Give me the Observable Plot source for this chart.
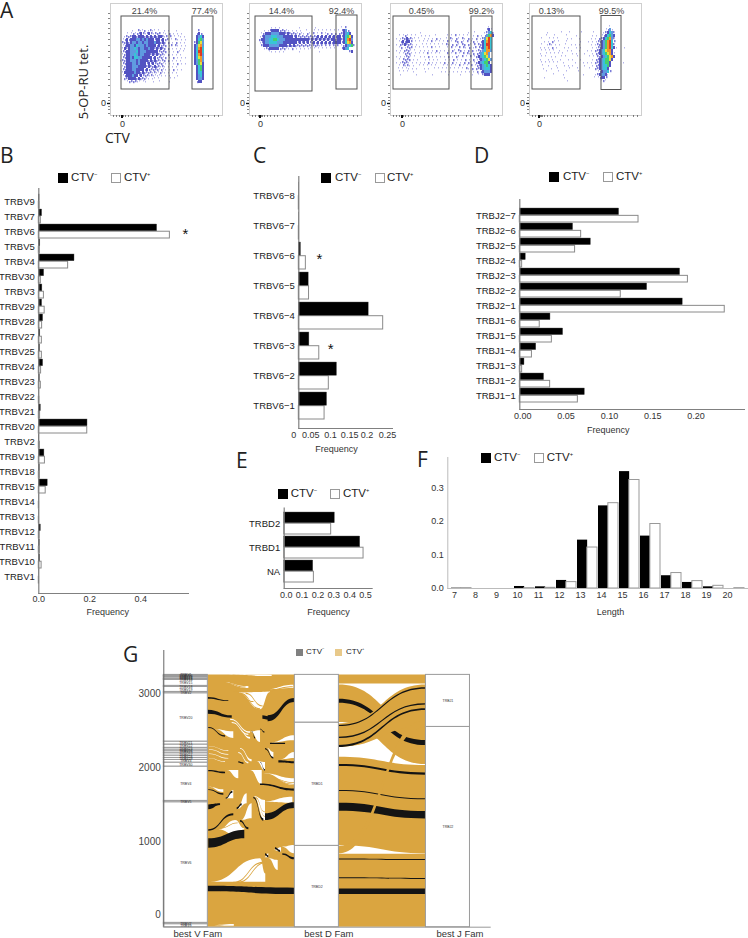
<!DOCTYPE html>
<html><head><meta charset="utf-8">
<script src="https://cdn.jsdelivr.net/npm/d3@7"></script>
<script src="https://cdn.jsdelivr.net/npm/@observablehq/plot@0.6"></script>
<style>
html,body{margin:0;padding:0;background:#fff}
#page{position:relative;width:748px;height:938px;overflow:hidden;background:#fff;font-family:"Liberation Sans",Arial,sans-serif;color:#222}
#page>svg,#page>figure{position:absolute;margin:0;overflow:visible;background:transparent}
.abs{position:absolute;white-space:nowrap;line-height:1}
.letter{font-family:"Open Sans",sans-serif;font-size:21px;color:#222}
.sq{position:absolute;box-sizing:border-box}
sup{font-size:50%;line-height:0;vertical-align:super}
</style></head><body><div id="page"></div>
<script>
// ---------- panel A : flow gates and density readings (levels 1-9 per small cell)
const gatePct = [["21.4%","77.4%"],["14.4%","92.4%"],["0.45%","99.2%"],["0.13%","99.5%"]];
const frameLeft = [110,249,390,529];
const gateLow = [[11,59,13,86],[6,63,13,88],[3,59,13,86],[3,51,13,86]];
const gateHigh = [[82,103,13,86],[87,108,12,86],[81,102,13,86],[72,92,12.5,86.5]];
const pctCenter = [[34,94],[32,92],[31,91],[22,82]];
const zeroX = [12,11,12,10];
const density1 = [
"...........1..2112.1211.1..1.1...1..........2...........",
"........1.121223212321222.11.2.1.1.1.......232..........",
".......1222332333232323233212.2.1.11.1.....3453.........",
"......12323334434343332332322.1.21.1.1.....3564.........",
"......2232344344344333433232.2.1.2.1.1....23674.........",
"......1233443544434333323222.12.21.1.1....34784.........",
"......1323445434433433232322.2.1.1.1.1....35895.........",
".....12233444534443333332222.1.1.21.1.....35995.........",
"......1233445434433323232221.2.1.1.1......35894.........",
"......2233435544333332322212.1.2.1.1.1....35784.........",
".....12233444343333232322122.2.1.1.1......34684.........",
"......2233344343332323222211.1.1.2.1.1....34673.........",
"......1233344433332322322121.1.1.1.........3563.........",
"......2233344333323222221211.1.2.1.1.......3563.........",
"......1333334332322221211211.1.1.1.........3553.........",
"......12333433232221211111.1.1...1.........3453.........",
".......2233332322211.11.1.....1.1..........3443.........",
"........1222211.11...1..1....1.............233.........."];
const density2 = [
"...........1.1.1.........1.......1............1.2.......",
".......1.12333322211.1.1.1..1...1.1.1.1.1.1.1.2342......",
"......1233344443332322221211.21.2.1.2.12.2.2.223453.....",
".....12344455544433333232222222222323232323233235673....",
".....23344556654443333333333332323232323233233235894....",
".....12344555544433333332323232232323232323333235783....",
"......2333444443333232322222222122212.2.2.212.1234562...",
".......1223333322211.2.1.1.1.11.1.1.1.1.1.1...2345......",
"..........11.1.1.1.......1.........1..............23...."];
const density3 = [
".................................................1......",
"................................................231.....",
"...............1.......................1..1....12452....",
"....1.121.1.1..1.1.1..1.....1.1.2.1.1.1..1.2.1.24683....",
"...1.12232211.1..1.1.1.2.1..1.21.21.21.2.1.2.124795....",
"....1232332.1.1.1.1.2.1.1.1.2.1.22.21.2.12.1.235895....",
"...1.2232221.1..1.1.1.1.1.1.21.2.21.22.21.2.2235995....",
"....12.1222.1.1.1.1.2.1.1...1.2.1.2.21.2.12.2235895....",
"...1.1.2221.1..1.1.1.1.2.1.1.1.21.22.1.2.2.12245884....",
"....1.12221.1.1.1.2.1.1.1...2.1.2.1.2.21.2.2245784.....",
"...1.1.1221.1..1.1.2.1.1.1.1.2.1.21.2.1.2.12345674....",
"....1.2222.1.1...1.1.1.1...1.1.2.1.1.2.1.2.12345674...",
"...1.12221.1.1.1.1.2.1.1.1.2.1.2.1.1.2.21.12345663....",
"....1.2121.1..1.1.1.1.1...1.1.1.1.2.1.1.2.122345653....",
"....1.1.11.1.1...1.1..1.1.1.1.1.1.1.1.21.2.22345553....",
"....1.1.1..1.....1.......1.1.1.1.1.1.1.1.1.2.234443....",
".....1.......1.......1.......1.....1.....1..1.2333....."];
const density4 = [
"........................................1...............",
"......................................1241..............",
".........1......1...1.....1.....1....123542.............",
"........1...1.....1....1.......1.1..1235643.............",
"......1...1.1.1....1.1...1.....1.1.22356842.............",
".......1.1.21.1...1......1...1.1.1223468952............",
"......1..121.1.1..1..1.1.1.....1.1223468952............",
".....1.1.1.2.1...1.1...1.1.....1.12234689531...1.......",
"......1.1.1.1..1...1.1...1...1.1.223457883.............",
".....1..1.1.1.1.1....1.1...1...1.2234567831............",
"......1.1..1.1..1.1.....1.....1.1.223456783............",
".....1...1.1...1...1.1...1.....1.223456673.............",
"......1.1.1.1.1..1.....1...1.1.1.22345663......1.......",
"......1..1...1...1.1.1.....1...1.22345563..............",
".......1...1..1.....1...1.....1..2234553...............",
"........1.....1...1.....1.........1234452..............",
"............1....1.........1.....1234431...............",
".......1.........1..............1.12332................",
"...................1................121................"];
const densityGrids = [density1,density2,density3,density4];
const densityTop = [26,23,22,22];
const densityColors = ["#fff","#b4b4ea","#7c7cd8","#5252c2","#5f9be0","#38c4d6","#45cf70","#e6e03c","#f0982a","#e03a22"];
const xMinor = [3,6,9,11,12,13,15,18,21,25,28,34,38,42,46,50,56,60,64,68,76,80,84,88,92,98,104,108];
const yMinor = [10,15,20,25,30,36,42,48,54,63,70,76,82,90,94,97,100,103,106,110];

// ---------- panel B
const bCats = ["TRBV9","TRBV7","TRBV6","TRBV5","TRBV4","TRBV30","TRBV3","TRBV29","TRBV28","TRBV27","TRBV25","TRBV24","TRBV23","TRBV22","TRBV21","TRBV20","TRBV2","TRBV19","TRBV18","TRBV15","TRBV14","TRBV13","TRBV12","TRBV11","TRBV10","TRBV1"];
const bNeg = [.003,.013,.464,.006,.14,.021,.014,.013,.017,.006,.005,.017,.004,.001,.008,.191,.002,.022,.004,.035,.001,.001,.008,.004,.005,.001];
const bPos = [.003,.008,.514,.004,.115,.008,.02,.023,.013,.012,.012,.009,.008,.002,.005,.19,.004,.024,.004,.027,.001,.001,.003,.004,.011,.001];
// ---------- panel C
const cCats = ["TRBV6−8","TRBV6−7","TRBV6−6","TRBV6−5","TRBV6−4","TRBV6−3","TRBV6−2","TRBV6−1"];
const cNeg = [.0005,.0005,.006,.028,.198,.03,.108,.08];
const cPos = [.0005,.0005,.02,.029,.239,.058,.085,.073];
const cTickText = ["0","0.05","0.1","0.15","0.2","0.25"];
const cTickAt = [-.014,.034,.09,.144,.193,.251];
// ---------- panel D
const dCats = ["TRBJ2−7","TRBJ2−6","TRBJ2−5","TRBJ2−4","TRBJ2−3","TRBJ2−2","TRBJ2−1","TRBJ1−6","TRBJ1−5","TRBJ1−4","TRBJ1−3","TRBJ1−2","TRBJ1−1"];
const dNeg = [.1146,.0615,.082,.0069,.185,.147,.188,.0354,.05,.019,.0054,.028,.075];
const dPos = [.137,.0708,.0638,.0027,.194,.1165,.2365,.023,.037,.014,.0027,.035,.067];
// ---------- panel E
const eCats = ["TRBD2","TRBD1","NA"];
const eNeg = [.319,.479,.183];
const ePos = [.296,.5,.187];
// ---------- panel F
const fLengths = [7,8,9,10,11,12,13,14,15,16,17,18,19,20].map(String);
const fNeg = [.001,0,0,.006,.005,.024,.144,.246,.348,.156,.038,.018,.005,0];
const fPos = [.001,0,0,.001,.002,.019,.122,.254,.323,.192,.046,.022,.008,.001];
// ---------- panel G
const gAxes = ["best V Fam","best D Fam","best J Fam"];
const vFam = ["TRBV9","TRBV7","TRBV6","TRBV5","TRBV4","TRBV30","TRBV3","TRBV29","TRBV28","TRBV27","TRBV25","TRBV24","TRBV23","TRBV22","TRBV21","TRBV20","TRBV2","TRBV19","TRBV18","TRBV15","TRBV14","TRBV13","TRBV12","TRBV11","TRBV10","TRBV1"];
const vCounts = [41,18,1637,18,466,54,36,27,32,32,27,23,23,45,40,656,18,68,14,81,9,9,18,14,9,9];
const dFam = ["TRBD2","TRBD1","NA"];
const dCounts = [1104,1673,647];
const jFam = ["TRBJ2","TRBJ1"];
const jCounts = [2718,706];
const gBase = -163;
// V to D: gold mass, then the gaps and the visible pieces of CTV- ribbons:
// [kind, axis position 0, edge a, edge b, axis position 1, edge a, edge b]
const VD = [
 ["+",1.168,3261,-163,1.832,3261,-163],
 ["g",1.226,3266,3266,1.659,3257,3239],
 ["g",1.252,3166,3166,1.481,3103,3076],
 ["g",1.608,3058,3058,1.824,3121,3076],
 ["g",1.404,3013,3013,1.57,3022,2787],
 ["g",1.57,3022,2787,1.646,3031,3022],
 ["g",1.226,2516,2516,1.366,2488,2398],
 ["g",1.341,2660,2647,1.494,2488,2470],
 ["g",1.354,2615,2601,1.481,2457,2439],
 ["g",1.392,2547,2547,1.494,2411,2389],
 ["g",1.494,2488,2488,1.57,2502,2344],
 ["g",1.646,2335,2335,1.832,2434,2366],
 ["g",1.621,2262,2262,1.672,2208,2127],
 ["g",1.723,2109,2109,1.832,2208,2127],
 ["g",1.417,2262,2253,1.506,2109,2082],
 ["g",1.404,2208,2195,1.481,2073,2055],
 ["g",1.18,2290,2285,1.328,2231,2222],
 ["g",1.18,2244,2240,1.328,2181,2172],
 ["g",1.18,2186,2181,1.328,2127,2118],
 ["g",1.18,2127,2122,1.303,2082,2073],
 ["g",1.544,2082,2082,1.608,2073,1960],
 ["g",1.315,1963,1963,1.404,1963,1850],
 ["g",1.494,1963,1963,1.583,1963,1773],
 ["g",1.595,1918,1918,1.832,1850,1760],
 ["g",1.175,1737,1737,1.29,1701,1665],
 ["g",1.303,1579,1579,1.366,1692,1579],
 ["g",1.392,1430,1430,1.468,1647,1511],
 ["g",1.519,1610,1610,1.608,1556,1285],
 ["g",1.583,1534,1534,1.817,1601,1520],
 ["g",1.425,1285,1285,1.506,1511,1308],
 ["g",1.252,1158,1158,1.379,1285,1082],
 ["g",1.379,1285,1082,1.45,1172,1158],
 ["g",1.735,923,923,1.832,946,833],
 ["g",1.672,878,878,1.73,914,856],
 ["g",1.603,779,779,1.633,833,779],
 ["g",1.19,448,448,1.57,765,448],
 ["g",1.57,765,448,1.61,560,448],
 ["g",1.633,765,765,1.705,742,607],
 ["g",1.19,-142,-142,1.37,-150,-125],
 ["-",1.17,2954,2931,1.328,2909,2900],
 ["-",1.17,2782,2728,1.354,2705,2674],
 ["-",1.628,2705,2624,1.832,2940,2886],
 ["-",1.175,2547,2534,1.303,2434,2416],
 ["-",1.57,2525,2516,1.603,2488,2470],
 ["-",1.588,2705,2660,1.633,2692,2647],
 ["-",1.506,2497,2488,1.532,2411,2389],
 ["-",1.646,2335,2317,1.761,2335,2317],
 ["-",1.608,2262,2244,1.672,2140,2118],
 ["-",1.71,2095,2064,1.832,2082,2055],
 ["-",1.57,2073,2064,1.608,1973,1955],
 ["-",1.404,2082,2064,1.443,2064,2046],
 ["-",1.175,1963,1945,1.303,1940,1918],
 ["-",1.57,1782,1760,1.832,1714,1683],
 ["-",1.175,1701,1692,1.29,1647,1629],
 ["-",1.308,1592,1574,1.359,1683,1656],
 ["-",1.392,1457,1430,1.43,1511,1484],
 ["-",1.175,1497,1430,1.265,1511,1488],
 ["-",1.519,1601,1579,1.595,1308,1276],
 ["-",1.608,1375,1285,1.832,1525,1448],
 ["-",1.417,1285,1262,1.481,1186,1158],
 ["-",1.175,1158,1140,1.366,1375,1348],
 ["-",1.175,1036,910,1.45,1149,1036],
 ["-",1.74,833,815,1.832,779,752],
 ["-",1.684,914,887,1.723,878,851],
 ["-",1.608,833,806,1.633,806,779],
 ["-",1.168,394,317,1.832,366,280],
 ["+",1.366,448,430,1.595,720,702],
 ["+",1.40,448,430,1.62,720,702],
 ["+",1.417,3013,2995,1.57,2800,2785],
 ["+",1.46,3013,2995,1.59,2840,2825],
 ["+",1.62,1870,1860,1.832,1800,1790],
 ["+",1.64,1850,1840,1.832,1775,1765],
 ["+",1.53,1600,1590,1.607,1400,1390],
 ["+",1.54,1590,1580,1.607,1340,1330],
 ["+",1.27,1180,1170,1.40,1250,1240],
 ["+",1.35,3050,3035,1.52,2900,2885],
 ["+",1.60,3040,3028,1.82,3100,3088],
 ["+",1.30,3150,3138,1.46,3095,3083]
];
// D to J: ribbons in draw order [kind, left edge a, left edge b, right edge a, right edge b]
const DJ = [
 ["+",3261,3139,3261,3139],
 ["+",3125,2614,2551,2044],
 ["-",2931,2877,2370,2302],
 ["+",2596,2280,3125,2560],
 ["-",2574,2560,3085,3067],
 ["-",2415,2397,2868,2854],
 ["-",2302,2275,2800,2777],
 ["+",2144,941,2031,832],
 ["-",2044,2017,1931,1900],
 ["-",1692,1678,1579,1565],
 ["-",1520,1411,1407,1307],
 ["+",828,-163,828,-163],
 ["-",764,750,755,741],
 ["-",507,493,498,484],
 ["-",357,280,357,280],
 ["+",932,832,2641,2542]
];

const page = document.getElementById("page");
function place(node,left,top){node.style.left=left+"px";node.style.top=top+"px";page.appendChild(node);return node;}
function html(tag,cls,txt,left,top,style){const e=document.createElement(tag);e.className=cls;e.innerHTML=txt;e.style.left=left+"px";e.style.top=top+"px";if(style)Object.assign(e.style,style);page.appendChild(e);return e;}
function legend(x1,x2,x3,x4,cy,size=11.5,sq=10,negCol="#000",posBorder="#999",posFill="#fff"){
 html("div","sq","",x1,cy-sq/2,{width:sq+"px",height:sq+"px",background:negCol});
 html("div","abs","CTV<sup>−</sup>",x2,cy-size/2,{fontSize:size+"px"});
 html("div","sq","",x3,cy-sq/2,{width:sq+"px",height:sq+"px",background:posFill,border:"1px solid "+posBorder});
 html("div","abs","CTV<sup>+</sup>",x4,cy-size/2,{fontSize:size+"px"});
}
[["A",0,0],["B",0,145],["C",253,145],["D",474,145],["E",236,450],["F",417,449],["G",123,644]].forEach(([t,x,y])=>html("div","abs letter",t,x,y));

// panel A
gatePct.forEach((pct,i)=>{
 const cells=[];
 densityGrids[i].forEach((row,r)=>[...row].forEach((ch,c)=>{
  if(ch===".") return;
  const lv=+ch, w=lv===1?1:lv===2?1.5:2, h=lv===1?1.5:lv===2?2.2:3;
  const x1=c*2+(r%2), y1=densityTop[i]+r*3+(c%2);
  cells.push({x1:lv>2?c*2:x1,x2:(lv>2?c*2:x1)+w,y1:lv>2?densityTop[i]+r*3:y1,y2:(lv>2?densityTop[i]+r*3:y1)+h,level:lv});
 }));
 const gates=[gateLow[i],gateHigh[i]];
 const node=Plot.plot({width:142,height:135,marginLeft:25,marginRight:5,marginTop:3,marginBottom:20,
  x:{domain:[0,112],axis:null},y:{domain:[0,112],reverse:true,axis:null},
  style:{fontFamily:"Liberation Sans",fontSize:"9px",color:"#333",background:"transparent"},
  marks:[
   Plot.frame({stroke:"#cfcfcf"}),
   Plot.rect(cells,{x1:"x1",x2:"x2",y1:"y1",y2:"y2",fill:d=>densityColors[d.level],imageFilter:"blur(0.45px)"}),
   Plot.rect(gates,{x1:d=>d[0],x2:d=>d[1],y1:d=>d[2],y2:d=>d[3],fill:"none",stroke:"#555",strokeWidth:1}),
   Plot.text(pct,{x:(d,j)=>pctCenter[i][j],y:8,fontSize:9,fill:"#444"}),
   Plot.ruleX(xMinor,{x:d=>d,y1:112,y2:114,stroke:"#333",strokeWidth:.6}),
   Plot.ruleX([zeroX[i]-1,zeroX[i]],{x:d=>d,y1:112,y2:115,stroke:"#111",strokeWidth:1}),
   Plot.ruleY(yMinor,{y:d=>d,x1:-2,x2:0,stroke:"#333",strokeWidth:.6}),
   Plot.ruleY([100],{y:d=>d,x1:-3,x2:0,stroke:"#111",strokeWidth:1.4}),
   Plot.text(["0"],{x:zeroX[i],y:121,fontSize:9,fill:"#333"}),
   Plot.text(["0"],{x:-7,y:100,fontSize:9,fill:"#333"})
  ]});
 place(node,frameLeft[i]-25,0);
});
html("div","abs","CTV",105,131,{fontFamily:"Open Sans",fontSize:"14px"});
html("div","abs","5-OP-RU tet.",83,82,{fontFamily:"Open Sans",fontSize:"13px",transform:"translate(-50%,-50%) rotate(-90deg)"});

// panels B-E
function hbars({cats,neg,pos,left,top,width,height,mL,mR,mT,mB,xMax,pI,pO,align,ticks,tickFmt,tickDx=0,tickPad=3,freqAt,freqDy,stars=[],axisCol="#808080",custom=null}){
 const H=height-mT-mB, step=H/(cats.length-pI+2*pO), half=step*(1-pI)/2;
 const rows=cats.map((c,i)=>({c,neg:neg[i],pos:pos[i]}));
 const marks=[
  Plot.barX(rows,{x:"pos",y:"c",insetTop:half,fill:"#fff",stroke:"#8a8a8a",strokeWidth:1}),
  Plot.barX(rows,{x:"neg",y:"c",insetBottom:half,fill:"#000",stroke:"#555",strokeWidth:.4}),
  Plot.frame({anchor:"left",stroke:axisCol,strokeWidth:1.2}),
  Plot.frame({anchor:"bottom",stroke:axisCol,strokeWidth:1}),
  Plot.axisY({tickSize:0,tickPadding:4,label:null,fontSize:9.5,fill:"#222"}),
  Plot.text(["Frequency"],{x:()=>freqAt,frameAnchor:"bottom",dy:freqDy,lineAnchor:"middle",fontSize:9,fill:"#333"}),
  Plot.text(stars,{x:d=>d[0],y:d=>d[1],text:()=>"*",fontSize:15,dy:3,fill:"#111"})
 ];
 if(custom) marks.push(Plot.text(custom.text,{x:(d,i)=>custom.at[i],frameAnchor:"bottom",dy:7,lineAnchor:"middle",fontSize:9,fill:"#333"}));
 else marks.push(Plot.axisX({ticks,tickFormat:tickFmt,tickSize:0,tickPadding:tickPad,dx:tickDx,label:null,fontSize:9,fill:"#333"}));
 place(Plot.plot({width,height,marginLeft:mL,marginRight:mR,marginTop:mT,marginBottom:mB,
  x:{domain:[0,xMax],axis:custom?null:undefined},y:{domain:cats,paddingInner:pI,paddingOuter:pO,align},
  style:{fontFamily:"Liberation Sans",fontSize:"9px",background:"transparent",color:"#222"},marks}),left,top);
}
hbars({cats:bCats,neg:bNeg,pos:bPos,left:0,top:180,width:200,height:440,mL:38.3,mR:12,mT:8,mB:27,xMax:.587,pI:.068,pO:.1,align:.35,ticks:[0,.2,.4],tickFmt:".1f",tickPad:2,freqAt:.27,freqDy:19,stars:[[.575,"TRBV6"]]});
legend(58,71,111,124,177.5);
hbars({cats:cCats,neg:cNeg,pos:cPos,left:230,top:170,width:175,height:285,mL:68.3,mR:13,mT:6,mB:27,xMax:.2654,pI:.11,pO:.145,align:.4,freqAt:.107,freqDy:21,stars:[[.0586,"TRBV6−6"],[.09,"TRBV6−3"]],custom:{text:cTickText,at:cTickAt}});
legend(321,335,375,387,178);
hbars({cats:dCats,neg:dNeg,pos:dPos,left:470,top:190,width:278,height:250,mL:49.3,mR:4,mT:9,mB:31,xMax:.2593,pI:.07,pO:.168,align:.55,ticks:[0,.05,.1,.15,.2],tickFmt:".2f",tickDx:3,freqAt:.102,freqDy:21});
legend(549,563,603,616,177);
hbars({cats:eCats,neg:eNeg,pos:ePos,left:230,top:500,width:150,height:120,mL:53.7,mR:8.3,mT:7.7,mB:32,xMax:.5545,pI:.1,pO:.16,align:.43,ticks:[0,.1,.2,.3,.4,.5],tickFmt:".1f",tickDx:2,freqAt:.279,freqDy:23.7});
legend(277.7,290.7,330,343,494);

// panel F
{
 const rows=fLengths.map((c,i)=>({c,neg:fNeg[i],pos:fPos[i]}));
 const half=21*(1-.062)/2;
 place(Plot.plot({width:328,height:160,marginLeft:27.3,marginRight:0,marginTop:7,marginBottom:22,
  x:{domain:fLengths,paddingInner:.062,paddingOuter:.19,align:.5},y:{domain:[0,.39]},
  style:{fontFamily:"Liberation Sans",fontSize:"9px",background:"transparent",color:"#222"},
  marks:[
   Plot.barY(rows,{x:"c",y:"neg",insetRight:half,fill:"#000"}),
   Plot.barY(rows,{x:"c",y:"pos",insetLeft:half,fill:"#fff",stroke:"#999",strokeWidth:1}),
   Plot.frame({anchor:"left",stroke:"#bbb"}),
   Plot.frame({anchor:"bottom",stroke:"#bbb"}),
   Plot.axisY({ticks:[0,.1,.2,.3],tickFormat:".1f",tickSize:0,tickPadding:4,label:null,fontSize:9,fill:"#333"}),
   Plot.axisX({tickSize:0,tickPadding:3,dx:-7,label:null,fontSize:9,fill:"#333"}),
   Plot.text(["Length"],{x:()=>"15",dx:-19,frameAnchor:"bottom",dy:23.7,lineAnchor:"middle",fontSize:9,fill:"#333"})
  ]}),420,450);
 legend(480.7,494,534,546.7,457.5);
}

// panel G
{
 const half=.168;
 function stack(names,counts,pos){let y=gBase;return names.map((n,i)=>{const r={n,pos,y1:y,y2:y+counts[i]};y+=counts[i];return r;});}
 const strata=[...stack(vFam,vCounts,1),...stack(dFam,dCounts,2),...stack(jFam,jCounts,3)];
 const kind={"+":"CTV+","-":"CTV−","g":"gap"};
 const ribbonRows=[];
 VD.forEach((r,i)=>{const id="a"+i,series=kind[r[0]];
  ribbonRows.push({id,series,x:r[1],y1:r[2],y2:r[3]},{id,series,x:r[4],y1:r[5],y2:r[6]});});
 DJ.forEach((r,i)=>{const id="b"+i,series=kind[r[0]];
  ribbonRows.push({id,series,x:2+half,y1:r[1],y2:r[2]},{id,series,x:3-half,y1:r[3],y2:r[4]});});
 const stratumLabel=strata.filter(d=>d.n!=="NA");
 place(Plot.plot({width:375,height:293,marginLeft:43.3,marginRight:4.3,marginTop:5,marginBottom:11.3,
  x:{domain:[.832,3.33]},y:{domain:[gBase,3592]},
  color:{domain:["CTV−","CTV+","gap"],range:["#141414","#DAA540","#ffffff"]},
  style:{fontFamily:"Liberation Sans",fontSize:"10px",background:"transparent",color:"#333"},
  marks:[
   Plot.areaY(ribbonRows,{x:"x",y1:"y1",y2:"y2",z:"id",fill:"series",curve:"bump-x"}),
   Plot.rect(strata,{x1:d=>d.pos-half,x2:d=>d.pos+half,y1:"y1",y2:"y2",fill:"#fff",stroke:"#9a9a9a",strokeWidth:1}),
   Plot.text(stratumLabel,{x:"pos",y:d=>(d.y1+d.y2)/2,text:"n",fontSize:3.5,fill:"#333"}),
   Plot.ruleX([.832],{stroke:"#666",strokeWidth:1}),
   Plot.ruleY([gBase],{stroke:"#999",strokeWidth:1}),
   Plot.axisY({ticks:[0,1000,2000,3000],tickFormat:d=>String(d),tickSize:0,tickPadding:3,label:null,fontSize:10,fill:"#444"}),
   Plot.axisX({ticks:[1,2,3],tickFormat:d=>gAxes[d-1],tickSize:0,tickPadding:3,dx:12,label:null,fontSize:9.5,fill:"#333"})
  ]}),120,645);
 legend(296,306,335,346,652,8,7,"#808080","#e8c98a","#e8c98a");
}
</script></body></html>
